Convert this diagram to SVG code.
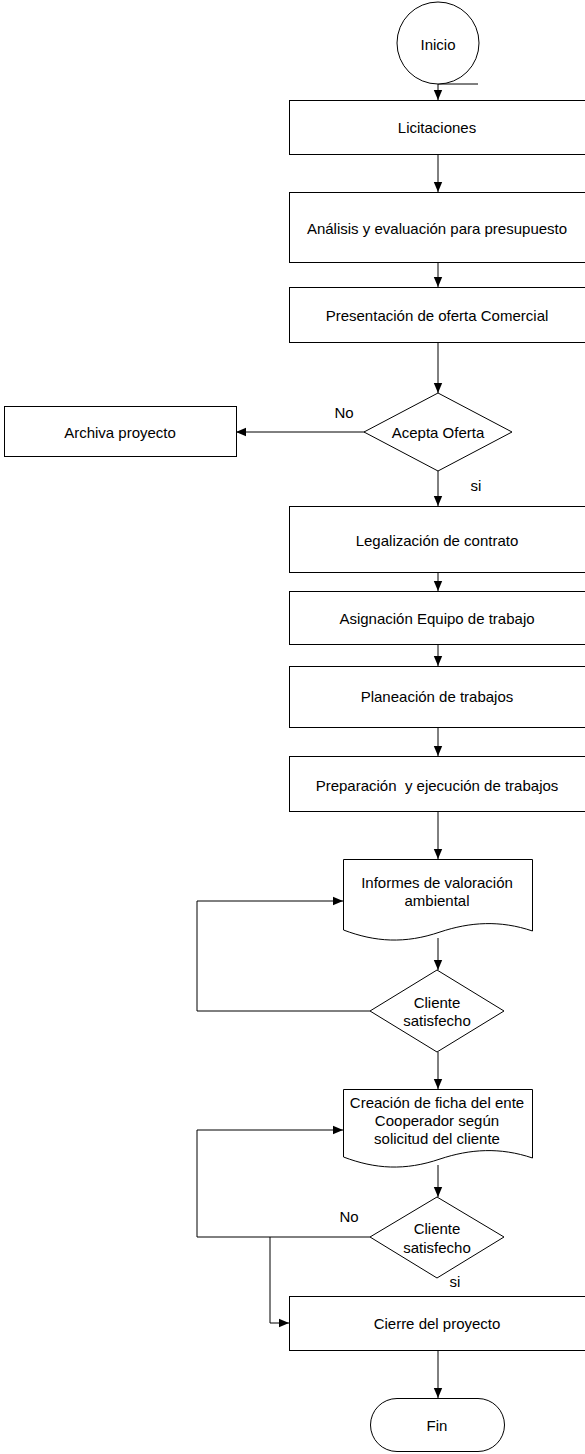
<svg xmlns="http://www.w3.org/2000/svg" width="585" height="1454" viewBox="0 0 585 1454">
<defs>
<marker id="ah" markerWidth="10" markerHeight="10" refX="10" refY="5" orient="auto" markerUnits="userSpaceOnUse">
<path d="M0,0.8 L10,5 L0,9.2 Z" fill="#000"/>
</marker>
<style>
.s{fill:#fff;stroke:#000;stroke-width:1}
.c{fill:none;stroke:#000;stroke-width:1}
.t{font-family:"Liberation Sans",Arial,sans-serif;font-size:15px;fill:#000;text-anchor:middle;dominant-baseline:central}
</style>
</defs>
<rect width="585" height="1454" fill="#fff"/>
<g id="connectors">
<line class="c" x1="438" y1="84" x2="478" y2="84"/>
<line class="c" x1="438" y1="84" x2="438" y2="100" marker-end="url(#ah)"/>
<line class="c" x1="438" y1="154" x2="438" y2="192" marker-end="url(#ah)"/>
<line class="c" x1="438" y1="262" x2="438" y2="287" marker-end="url(#ah)"/>
<line class="c" x1="438" y1="342" x2="438" y2="393" marker-end="url(#ah)"/>
<line class="c" x1="365" y1="432" x2="236" y2="432" marker-end="url(#ah)"/>
<line class="c" x1="438" y1="471" x2="438" y2="506" marker-end="url(#ah)"/>
<line class="c" x1="438" y1="572" x2="438" y2="591" marker-end="url(#ah)"/>
<line class="c" x1="438" y1="644" x2="438" y2="666" marker-end="url(#ah)"/>
<line class="c" x1="438" y1="727" x2="438" y2="756" marker-end="url(#ah)"/>
<line class="c" x1="438" y1="811" x2="438" y2="859" marker-end="url(#ah)"/>
<line class="c" x1="438" y1="938" x2="438" y2="970" marker-end="url(#ah)"/>
<polyline class="c" points="370,1011 197,1011 197,901 343,901" marker-end="url(#ah)"/>
<line class="c" x1="438" y1="1052" x2="438" y2="1089" marker-end="url(#ah)"/>
<line class="c" x1="438" y1="1165" x2="438" y2="1197" marker-end="url(#ah)"/>
<polyline class="c" points="370,1237 197,1237 197,1130 343,1130" marker-end="url(#ah)"/>
<polyline class="c" points="270,1237 270,1323 289,1323" marker-end="url(#ah)"/>
<line class="c" x1="438" y1="1350" x2="438" y2="1398" marker-end="url(#ah)"/>
<text class="t" x="344" y="412">No</text>
<text class="t" x="476" y="485">si</text>
<text class="t" x="349" y="1216">No</text>
<text class="t" x="455" y="1281">si</text>
</g>
<g id="inicio">
<circle class="s" cx="438" cy="43" r="41"/>
<text class="t" x="438" y="44">Inicio</text>
</g>
<g id="licitaciones">
<rect class="s" x="289.5" y="100.5" width="297" height="54"/>
<text class="t" x="437" y="127">Licitaciones</text>
</g>
<g id="analisis">
<rect class="s" x="289.5" y="192.5" width="297" height="70"/>
<text class="t" x="437" y="228">Análisis y evaluación para presupuesto</text>
</g>
<g id="presentacion">
<rect class="s" x="289.5" y="287.5" width="297" height="55"/>
<text class="t" x="437" y="315">Presentación de oferta Comercial</text>
</g>
<g id="acepta">
<polygon class="s" points="438,393 512,432 438,471 364,432"/>
<text class="t" x="438" y="432">Acepta Oferta</text>
</g>
<g id="archiva">
<rect class="s" x="4.5" y="406.5" width="232" height="50"/>
<text class="t" x="120" y="432">Archiva proyecto</text>
</g>
<g id="legalizacion">
<rect class="s" x="289.5" y="506.5" width="297" height="66"/>
<text class="t" x="437" y="540">Legalización de contrato</text>
</g>
<g id="asignacion">
<rect class="s" x="289.5" y="591.5" width="297" height="53"/>
<text class="t" x="437" y="618">Asignación Equipo de trabajo</text>
</g>
<g id="planeacion">
<rect class="s" x="289.5" y="666.5" width="297" height="61"/>
<text class="t" x="437" y="696">Planeación de trabajos</text>
</g>
<g id="preparacion">
<rect class="s" x="289.5" y="756.5" width="297" height="55"/>
<text class="t" x="437" y="785" xml:space="preserve">Preparación  y ejecución de trabajos</text>
</g>
<g id="informes">
<path class="s" d="M343.5,859.5 L532.5,859.5 L532.5,931 C500,920 470,922 440,932 C405,944 375,942 343.5,930 Z"/>
<text class="t" x="437" y="882">Informes de valoración</text>
<text class="t" x="437" y="900">ambiental</text>
</g>
<g id="cliente1">
<polygon class="s" points="437,970 504,1011 437,1052 370,1011"/>
<text class="t" x="437" y="1002">Cliente</text>
<text class="t" x="437" y="1020">satisfecho</text>
</g>
<g id="creacion">
<path class="s" d="M343.5,1089.5 L532.5,1089.5 L532.5,1158 C500,1147 470,1149 440,1159 C405,1171 375,1169 343.5,1157 Z"/>
<text class="t" x="437" y="1102">Creación de ficha del ente</text>
<text class="t" x="437" y="1120">Cooperador según</text>
<text class="t" x="437" y="1138">solicitud del cliente</text>
</g>
<g id="cliente2">
<polygon class="s" points="437,1197 504,1237 437,1278 370,1237"/>
<text class="t" x="437" y="1228">Cliente</text>
<text class="t" x="437" y="1247">satisfecho</text>
</g>
<g id="cierre">
<rect class="s" x="289.5" y="1296.5" width="297" height="54"/>
<text class="t" x="437" y="1323">Cierre del proyecto</text>
</g>
<g id="fin">
<rect class="s" x="370.5" y="1398.5" width="134" height="53" rx="26.5" ry="26.5"/>
<text class="t" x="437" y="1425">Fin</text>
</g>
</svg>
